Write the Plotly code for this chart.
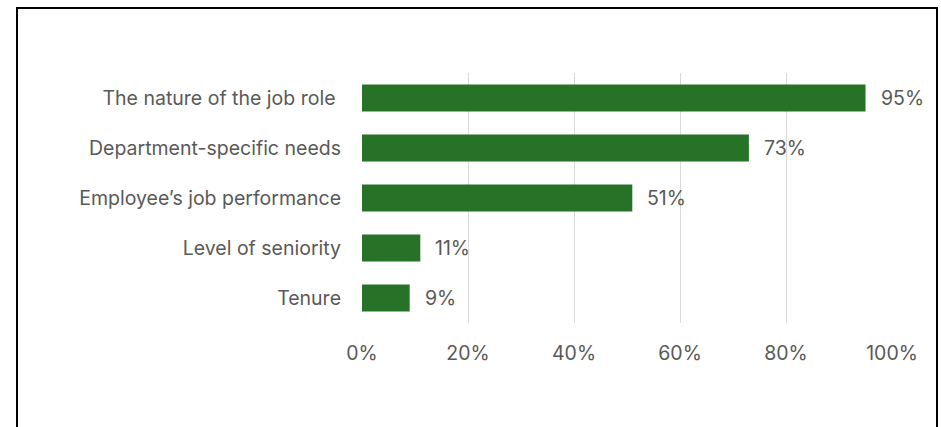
import plotly.graph_objects as go

categories = ["The nature of the job role ", "Department-specific needs",
              "Employee\u2019s job performance", "Level of seniority", "Tenure"]
values = [95, 73, 51, 11, 9]
x_ticks = [0, 20, 40, 60, 80, 100]
x_tick_labels = ["0%", "20%", "40%", "60%", "80%", "100%"]

FONT = "Inter, Open Sans, sans-serif"
GREY = "#595959"
SIZE = 19.5

fig = go.Figure(go.Bar(
    x=values, y=categories, orientation="h",
    marker=dict(color="#267328", line=dict(width=0)),
    width=0.54,
))

for v, c in zip(values, categories):
    fig.add_annotation(x=v, y=c, text=f"{v}%", showarrow=False,
                       xanchor="left", xshift=13,
                       font=dict(family=FONT, size=SIZE, color=GREY))

fig.update_layout(
    width=941, height=427,
    margin=dict(l=362, r=49, t=73, b=104),
    paper_bgcolor="white", plot_bgcolor="white",
    showlegend=False,
    font=dict(family=FONT, size=SIZE, color=GREY),
    xaxis=dict(range=[0, 100], tickvals=x_ticks, ticktext=x_tick_labels,
               showgrid=True, gridcolor="#d9d9d9", gridwidth=1,
               zeroline=False, showline=False, ticks="",
               ticklabelstandoff=16,
               tickfont=dict(family=FONT, size=SIZE, color=GREY)),
    yaxis=dict(categoryorder="array", categoryarray=categories[::-1],
               showgrid=False, zeroline=False, showline=False, ticks="",
               ticklabelstandoff=20,
               tickfont=dict(family=FONT, size=SIZE, color=GREY)),
    shapes=[dict(type="rect", xref="paper", yref="paper",
                 x0=(17 - 362) / 530, x1=(937 - 362) / 530,
                 y0=-0.6, y1=(323 - 8) / 250,
                 line=dict(color="black", width=2), fillcolor="rgba(0,0,0,0)",
                 layer="above")],
)

fig.write_html("out.html")
